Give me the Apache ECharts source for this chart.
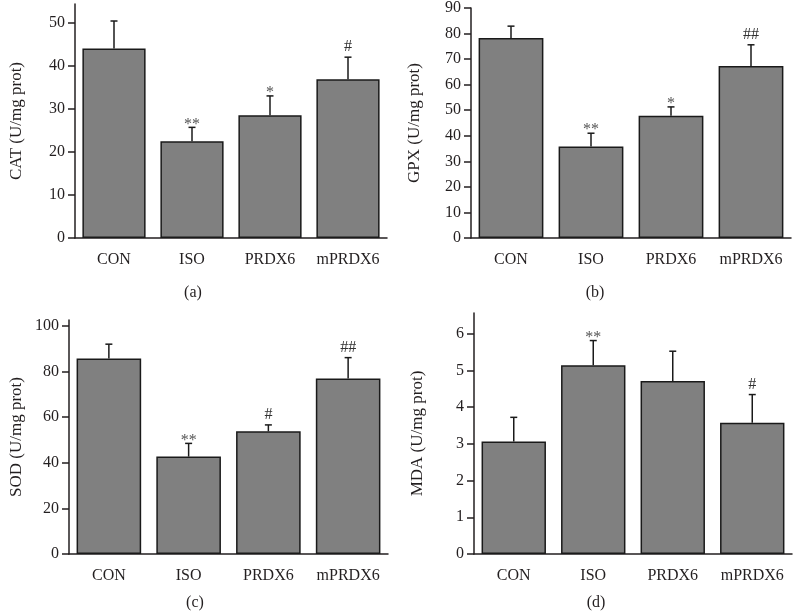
<!DOCTYPE html>
<html style="height: 100%">
<head>
    <meta charset="utf-8">
    <script src="https://cdn.jsdelivr.net/npm/echarts@6/dist/echarts.min.js"></script>
</head>
<body style="height: 100%; margin: 0; background: #fff">
    <div id="main" style="width:796px;height:616px;"></div>
    <script type="text/javascript">
    // groups on the x axis
    var groups = ['CON', 'ISO', 'PRDX6', 'mPRDX6'];

    // (a) CAT
    var catMean = [44.0, 22.5, 28.5, 36.9];
    var catErr = [6.4, 3.2, 4.5, 5.1];
    var catMarks = ['', '**', '*', '#'];
    var catTicks = [0, 10, 20, 30, 40, 50];

    // (b) GPX
    var gpxMean = [78.3, 35.8, 47.8, 67.3];
    var gpxErr = [4.6, 5.2, 3.5, 8.3];
    var gpxMarks = ['', '**', '*', '##'];
    var gpxTicks = [0, 10, 20, 30, 40, 50, 60, 70, 80, 90];

    // (c) SOD
    var sodMean = [85.7, 42.7, 53.8, 77.0];
    var sodErr = [6.3, 5.8, 2.8, 9.1];
    var sodMarks = ['', '**', '#', '##'];
    var sodTicks = [0, 20, 40, 60, 80, 100];

    // (d) MDA
    var mdaMean = [3.06, 5.14, 4.71, 3.57];
    var mdaErr = [0.66, 0.67, 0.81, 0.77];
    var mdaMarks = ['', '**', '', '#'];
    var mdaTicks = [0, 1, 2, 3, 4, 5, 6];

    var FONT = '"Liberation Serif", "DejaVu Serif", serif';
    var INK = '#231f20';

    var panels = [
        { name: 'CAT (U/mg prot)', mean: catMean, err: catErr, marks: catMarks, ticks: catTicks, max: 54.35, gap: 50,
          grid: { left: 75, top: 4, width: 312, height: 234 }, tag: '(a)', tagPos: [193, 293] },
        { name: 'GPX (U/mg prot)', mean: gpxMean, err: gpxErr, marks: gpxMarks, ticks: gpxTicks, max: 90, gap: 48,
          grid: { left: 471, top: 7, width: 320, height: 231 }, tag: '(b)', tagPos: [595, 293] },
        { name: 'SOD (U/mg prot)', mean: sodMean, err: sodErr, marks: sodMarks, ticks: sodTicks, max: 102.6, gap: 44,
          grid: { left: 69, top: 320, width: 319, height: 234 }, tag: '(c)', tagPos: [195, 603] },
        { name: 'MDA (U/mg prot)', mean: mdaMean, err: mdaErr, marks: mdaMarks, ticks: mdaTicks, max: 6.56, gap: 48,
          grid: { left: 474, top: 313, width: 318, height: 241 }, tag: '(d)', tagPos: [596, 603] }
    ];

    var myChart = echarts.init(document.getElementById('main'));

    var grid = [], xAxis = [], yAxis = [], series = [], graphic = [];

    panels.forEach(function (p, k) {
        grid.push(p.grid);
        xAxis.push({
            type: 'category',
            gridIndex: k,
            data: groups,
            axisLine: { lineStyle: { color: INK, width: 1.5 } },
            axisTick: { alignWithLabel: true, length: 7, lineStyle: { color: INK, width: 1.5 } },
            axisLabel: { interval: 0, color: INK, fontFamily: FONT, fontSize: 16, margin: 14 }
        });
        yAxis.push({
            type: 'value',
            gridIndex: k,
            min: 0,
            max: p.max,
            name: p.name,
            nameLocation: 'middle',
            nameGap: p.gap,
            nameTextStyle: { color: INK, fontFamily: FONT, fontSize: 17 },
            splitLine: { show: false },
            axisLine: { show: true, lineStyle: { color: INK, width: 1.5 } },
            axisTick: { show: true, length: 7, customValues: p.ticks, lineStyle: { color: INK, width: 1.5 } },
            axisLabel: { color: INK, fontFamily: FONT, fontSize: 16, margin: 10, customValues: p.ticks }
        });
        series.push({
            type: 'bar',
            xAxisIndex: k,
            yAxisIndex: k,
            barWidth: '81%',
            itemStyle: { color: '#808080', borderColor: '#1a1a1a', borderWidth: 1.5 },
            data: p.mean
        });
        series.push({
            type: 'custom',
            xAxisIndex: k,
            yAxisIndex: k,
            z: 5,
            data: p.mean.map(function (m, i) { return [i, m, p.err[i]]; }),
            renderItem: function (params, api) {
                var i = api.value(0), m = api.value(1), e = api.value(2);
                var base = api.coord([i, m]);
                var top = api.coord([i, m + e]);
                var mark = p.marks[params.dataIndex];
                var star = mark.charAt(0) === '*';
                var ls = { stroke: '#1a1a1a', lineWidth: 1.5 };
                return {
                    type: 'group',
                    children: [
                        { type: 'line', shape: { x1: base[0], y1: base[1], x2: top[0], y2: top[1] }, style: ls },
                        { type: 'line', shape: { x1: top[0] - 3.5, y1: top[1], x2: top[0] + 3.5, y2: top[1] }, style: ls },
                        { type: 'text', x: top[0], y: top[1] + (star ? 5 : -2),
                          style: { text: mark, fill: star ? '#555' : '#333', font: '16px ' + FONT,
                                   align: 'center', verticalAlign: 'bottom' } }
                    ]
                };
            }
        });
        graphic.push({
            type: 'text',
            x: p.tagPos[0],
            y: p.tagPos[1],
            style: { text: p.tag, fill: INK, font: '16px ' + FONT, align: 'center', verticalAlign: 'middle' }
        });
    });

    var option = {
        animation: false,
        grid: grid,
        xAxis: xAxis,
        yAxis: yAxis,
        series: series,
        graphic: graphic
    };
    myChart.setOption(option);
    </script>
</body>
</html>
